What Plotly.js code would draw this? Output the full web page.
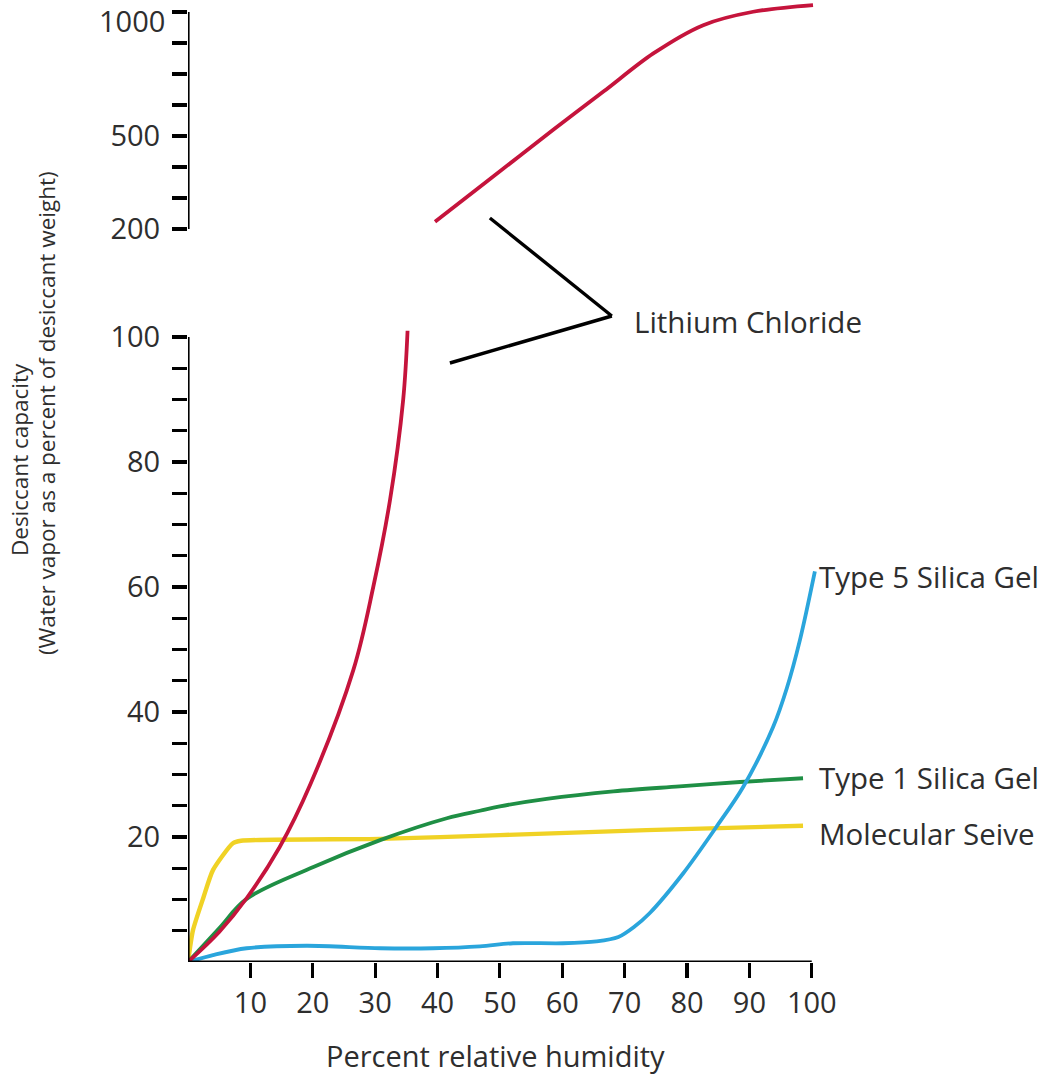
<!DOCTYPE html>
<html>
<head>
<meta charset="utf-8">
<script src="https://cdn.plot.ly/plotly-3.0.1.min.js"></script>
<style>html,body{margin:0;padding:0;background:#fff;}#chart{width:1046px;height:1078px;}</style>
</head>
<body>
<div id="chart"></div>
<script>
// ---- Data (percent relative humidity vs. water vapor as % of desiccant weight) ----
const liclLowX = [0, 5, 9.4, 14.7, 19.6, 26.5, 29.7, 32.4, 34.5, 35.2];
const liclLowY = [0, 4.8, 10.2, 18.4, 28.4, 46.7, 60, 74, 90, 101];

const liclHighX = [39.6, 47.9, 58.5, 66.6, 74.6, 82.6, 90.6, 100.2];
const liclHighY = [223, 353, 524, 679, 833, 947, 1001, 1028];

const silica1X = [0, 5, 9.4, 20.1, 30.8, 41.5, 46.8, 50, 57.5, 68.2, 78.8, 88.5, 98.6];
const silica1Y = [0, 5.4, 10.1, 15.2, 19.5, 23.0, 24.2, 24.9, 26.1, 27.3, 28.1, 28.8, 29.4];

const sieveX = [0, 0.8, 2.5, 4, 7.2, 8.5, 30.8, 50, 73.5, 98.6];
const sieveY = [0, 5.1, 10.4, 14.7, 19.0, 19.4, 19.7, 20.3, 21.1, 21.8];

const silica5X = [0, 4, 9.4, 19, 30.8, 39.3, 46.8, 52.1, 60.1, 65.5, 69.0, 71.5, 74, 79.4, 84.7, 89, 93.8, 96, 98.1, 100.5];
const silica5Y = [0, 1.1, 2.2, 2.6, 2.2, 2.2, 2.5, 3.0, 3.0, 3.3, 4.0, 5.6, 7.8, 14.2, 21.6, 28.0, 37.6, 43.8, 51.5, 62.5];

const xTickVals = [10, 20, 30, 40, 50, 60, 70, 80, 90, 100];
const yLowTickVals = [5,10,15,20,25,30,35,40,45,50,55,60,65,70,75,80,85,90,95,100];
const yLowLabelled = [20, 40, 60, 80, 100];
const yHighTickValues = [200, 300, 400, 500, 625, 750, 875, 1000];
const yHighLabelled = [200, 500];
const yHighTopLabel = '1000';

const seriesLabels = {
  licl: 'Lithium Chloride',
  s5: 'Type 5 Silica Gel',
  s1: 'Type 1 Silica Gel',
  sieve: 'Molecular Seive'
};
const xTitle = 'Percent relative humidity';
const yTitleLine1 = 'Desiccant capacity';
const yTitleLine2 = '(Water vapor as a percent of desiccant weight)';

// ---- broken upper scale: 200..500 in steps of 100, 500..1000 in steps of 125 ----
function upperScale(v) {
  return v <= 500 ? (v - 200) / 100 : 3 + (v - 500) / 125;
}

// ---- layout geometry (pixels) ----
const W = 1046, H = 1078;
const pxX0 = 188, pxPerX = 6.24;
const xMax = 101;
const pxYLow0 = 962, pxPerYLow = 6.25;
const yLowMax = 102;
const pxYHigh0 = 229, pxPerYHigh = 31;
const topPx = 3;
const marginL = pxX0, marginR = W - (pxX0 + xMax * pxPerX);
const marginB = H - pxYLow0, marginT = topPx;
const plotH = H - marginT - marginB;
const plotW = W - marginL - marginR;
const lowTop = (yLowMax * pxPerYLow) / plotH;
const highBottom = (pxYLow0 - pxYHigh0) / plotH;
const highMax = (pxYHigh0 - topPx) / pxPerYHigh;
const paperY = p => (pxYLow0 - p) / plotH;
const paperX = p => (p - pxX0) / plotW;
const dataX = p => (p - pxX0) / pxPerX;

const RED = '#c5143c', GREEN = '#1f8f45', YELLOW = '#f0d225', BLUE = '#2aa5dc';
const LW = 3.8;
const FONT = 'Open Sans, Noto Sans, sans-serif';
const TXT = '#2e2e2e';

const traces = [
  {x: sieveX, y: sieveY, xaxis: 'x', yaxis: 'y', mode: 'lines',
   line: {color: YELLOW, width: LW + 0.6, shape: 'spline', smoothing: 0.6}},
  {x: silica1X, y: silica1Y, xaxis: 'x', yaxis: 'y', mode: 'lines',
   line: {color: GREEN, width: LW, shape: 'spline', smoothing: 1}},
  {x: silica5X, y: silica5Y, xaxis: 'x', yaxis: 'y', mode: 'lines',
   line: {color: BLUE, width: LW, shape: 'spline', smoothing: 0.9}},
  {x: liclLowX, y: liclLowY, xaxis: 'x', yaxis: 'y', mode: 'lines',
   line: {color: RED, width: LW, shape: 'spline', smoothing: 1}},
  {x: liclHighX, y: liclHighY.map(upperScale), xaxis: 'x', yaxis: 'y2', mode: 'lines',
   line: {color: RED, width: LW, shape: 'spline', smoothing: 0.9}}
];

const tickFont = {family: FONT, size: 29, color: TXT};
const labelFont = {family: FONT, size: 29.5, color: TXT};
const xTitleFont = {family: FONT, size: 29, color: TXT};
const yTitleFont = {family: FONT, size: 22.5, color: TXT};

const layout = {
  width: W, height: H,
  margin: {l: marginL, r: marginR, t: marginT, b: marginB, pad: 0},
  paper_bgcolor: '#fff', plot_bgcolor: '#fff',
  showlegend: false,
  xaxis: {
    range: [0, xMax], domain: [0, 1], anchor: 'y',
    tickmode: 'array', tickvals: xTickVals, ticktext: xTickVals.map(String),
    ticks: 'outside', ticklen: 15, tickwidth: 3.2, tickcolor: '#000',
    showline: false, showgrid: false, zeroline: false,
    tickfont: tickFont, ticklabeloverflow: 'allow'
  },
  yaxis: {
    range: [0, yLowMax], domain: [0, lowTop], anchor: 'x',
    tickmode: 'array', tickvals: yLowTickVals,
    ticktext: yLowTickVals.map(v => yLowLabelled.includes(v) ? String(v) : ''),
    ticks: 'outside', ticklen: 15, tickwidth: 3.2, tickcolor: '#000',
    showline: false, showgrid: false, zeroline: false,
    tickfont: tickFont, ticklabelstandoff: 6, ticklabeloverflow: 'allow'
  },
  yaxis2: {
    range: [0, highMax], domain: [highBottom, 1], anchor: 'x',
    tickmode: 'array', tickvals: yHighTickValues.map(upperScale),
    ticktext: yHighTickValues.map(v => yHighLabelled.includes(v) ? String(v) : ''),
    ticks: 'outside', ticklen: 15, tickwidth: 3.2, tickcolor: '#000',
    showline: false, showgrid: false, zeroline: false,
    tickfont: tickFont, ticklabelstandoff: 6, ticklabeloverflow: 'allow'
  },
  shapes: [
    {type: 'line', xref: 'x', yref: 'y', x0: 0, x1: 100, y0: 0, y1: 0, line: {color: '#000', width: 3.2}},
    {type: 'line', xref: 'x', yref: 'y', x0: 0, x1: 0, y0: 0, y1: 100, line: {color: '#000', width: 3.2}},
    {type: 'line', xref: 'x', yref: 'y2', x0: 0, x1: 0, y0: 0, y1: upperScale(1000), line: {color: '#000', width: 3.2}},
    {type: 'line', xref: 'x', yref: 'paper', x0: dataX(490), y0: paperY(218), x1: dataX(612), y1: paperY(316), line: {color: '#000', width: 3.4}},
    {type: 'line', xref: 'x', yref: 'paper', x0: dataX(450), y0: paperY(363), x1: dataX(612), y1: paperY(316), line: {color: '#000', width: 3.4}}
  ],
  annotations: [
    {text: yHighTopLabel, xref: 'paper', yref: 'paper', x: paperX(166), y: paperY(0), xanchor: 'right', yanchor: 'top', borderpad: 0, showarrow: false, font: tickFont},
    {text: seriesLabels.licl, xref: 'x', yref: 'paper', x: dataX(632), y: paperY(321), xanchor: 'left', yanchor: 'middle', showarrow: false, font: labelFont},
    {text: seriesLabels.s5, xref: 'x', yref: 'paper', x: dataX(817), y: paperY(576), xanchor: 'left', yanchor: 'middle', showarrow: false, font: labelFont},
    {text: seriesLabels.s1, xref: 'x', yref: 'paper', x: dataX(817), y: paperY(777), xanchor: 'left', yanchor: 'middle', showarrow: false, font: labelFont},
    {text: seriesLabels.sieve, xref: 'x', yref: 'paper', x: dataX(817), y: paperY(833), xanchor: 'left', yanchor: 'middle', showarrow: false, font: labelFont},
    {text: xTitle, xref: 'paper', yref: 'paper', x: paperX(496), y: paperY(1055), xanchor: 'center', yanchor: 'middle', showarrow: false, font: xTitleFont},
    {text: yTitleLine1, xref: 'paper', yref: 'paper', x: paperX(19), y: paperY(460), xanchor: 'center', yanchor: 'middle', textangle: -90, showarrow: false, font: yTitleFont},
    {text: yTitleLine2, xref: 'paper', yref: 'paper', x: paperX(46), y: paperY(413), xanchor: 'center', yanchor: 'middle', textangle: -90, showarrow: false, font: yTitleFont}
  ]
};

Plotly.newPlot('chart', traces, layout, {displayModeBar: false, staticPlot: true});
</script>
</body>
</html>
